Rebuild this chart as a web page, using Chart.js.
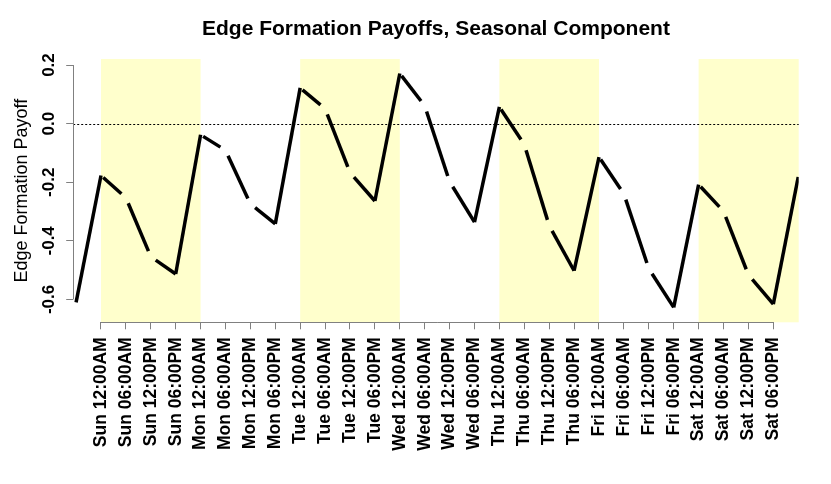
<!DOCTYPE html>
<html>
<head>
<meta charset="utf-8">
<script src="https://cdn.jsdelivr.net/npm/chart.js@4.4.1/dist/chart.umd.min.js"></script>
<style>
  body { margin: 0; background: #fff; }
  canvas { display: block; }
</style>
</head>
<body>
<canvas id="payoffChart" width="831" height="484"></canvas>
<script>
// data
const days = ['Sun', 'Mon', 'Tue', 'Wed', 'Thu', 'Fri', 'Sat'];
const hours = ['12:00AM', '06:00AM', '12:00PM', '06:00PM'];
const timeLabels = days.flatMap(d => hours.map(h => d + ' ' + h));
// one point before Sun 12:00AM and one after Sat 06:00PM (wrap-around)
const payoff = [-0.61,
  -0.177, -0.253, -0.454, -0.513,
  -0.038, -0.091, -0.274, -0.342,
   0.122,  0.051, -0.167, -0.264,
   0.171,  0.061, -0.198, -0.336,
   0.057, -0.071, -0.348, -0.502,
  -0.114, -0.240, -0.495, -0.627,
  -0.208, -0.299, -0.516, -0.616,
  -0.182];
const shadedDays = ['Sun', 'Tue', 'Thu', 'Sat'];
const yTicks = [-0.6, -0.4, -0.2, 0, 0.2];

Chart.defaults.font.family = "'Liberation Sans', Arial, sans-serif";
Chart.defaults.color = '#000';

const axisGray = '#808080';

// shaded day bands, zero line and R-style axis lines
const decorations = {
  id: 'decorations',
  beforeDraw(chart) {
    const {ctx, chartArea, scales: {x}} = chart;
    ctx.save();
    ctx.fillStyle = '#ffffcc';
    shadedDays.forEach(d => {
      const start = days.indexOf(d) * hours.length;
      const end = start + hours.length;
      const x0 = x.getPixelForValue(start);
      const x1 = end >= timeLabels.length ? chartArea.right : x.getPixelForValue(end);
      ctx.fillRect(x0, chartArea.top, x1 - x0, chartArea.bottom - chartArea.top);
    });
    ctx.restore();
  },
  beforeDatasetsDraw(chart) {
    const {ctx, chartArea, scales: {x, y}} = chart;
    ctx.save();
    // dotted zero line
    ctx.strokeStyle = '#000';
    ctx.lineWidth = 1;
    ctx.setLineDash([2, 2]);
    const y0 = Math.round(y.getPixelForValue(0)) + 0.5;
    ctx.beginPath();
    ctx.moveTo(chartArea.left, y0);
    ctx.lineTo(chartArea.right, y0);
    ctx.stroke();
    // axis lines
    ctx.setLineDash([]);
    ctx.strokeStyle = axisGray;
    const ax = Math.round(chartArea.left) + 0.5;
    ctx.beginPath();
    ctx.moveTo(ax, y.getPixelForValue(yTicks[0]));
    ctx.lineTo(ax, y.getPixelForValue(yTicks[yTicks.length - 1]));
    const ay = Math.round(chartArea.bottom) + 0.5;
    ctx.moveTo(x.getPixelForValue(0), ay);
    ctx.lineTo(x.getPixelForValue(timeLabels.length - 1), ay);
    ctx.stroke();
    ctx.restore();
  }
};

// falling stretches are dashed, with the breaks sitting on the inner points
function segDash(c) {
  const i0 = c.p0DataIndex, i1 = c.p1DataIndex;
  if (!(payoff[i1] < payoff[i0])) return null;
  const prevFalling = i0 > 0 && payoff[i0] < payoff[i0 - 1];
  const nextFalling = i1 < payoff.length - 1 && payoff[i1 + 1] < payoff[i1];
  const gs = prevFalling ? 6 : 3;
  const ge = nextFalling ? 6 : 0;
  const len = Math.hypot(c.p1.x - c.p0.x, c.p1.y - c.p0.y);
  const dash = Math.max(len - gs - ge, 1);
  return {dash: [dash, gs + ge], offset: dash + ge};
}

const payoffChartData = {
  datasets: [{
    label: 'Edge Formation Payoff',
    data: payoff.map((v, i) => ({x: i - 1, y: v})),
    borderColor: '#000',
    borderWidth: 3.5,
    borderJoinStyle: 'round',
    borderCapStyle: 'butt',
    pointRadius: 0,
    tension: 0,
    segment: {
      borderDash: c => { const s = segDash(c); return s ? s.dash : undefined; },
      borderDashOffset: c => { const s = segDash(c); return s ? s.offset : undefined; }
    }
  }]
};

const payoffChartOptions = {
  responsive: false,
  animation: false,
  layout: {padding: {left: 0, right: 32.3, top: 0, bottom: 0}},
  plugins: {
    legend: {display: false},
    tooltip: {enabled: false},
    title: {
      display: true,
      fullSize: false,
      text: 'Edge Formation Payoffs, Seasonal Component',
      font: {size: 21, weight: 'bold', lineHeight: 1.2},
      color: '#000',
      padding: {top: 17, bottom: 16.8}
    }
  },
  scales: {
    x: {
      type: 'linear',
      min: -1.116,
      max: 28.02,
      afterBuildTicks: s => { s.ticks = timeLabels.map((_, i) => ({value: i})); },
      afterFit: s => { s.height = 161.7; },
      grid: {drawOnChartArea: false, drawTicks: true, tickLength: 7, color: axisGray},
      border: {display: false},
      ticks: {
        autoSkip: false,
        minRotation: 90,
        maxRotation: 90,
        padding: 8,
        font: {size: 17.5, weight: 'bold'},
        callback: v => timeLabels[v]
      }
    },
    y: {
      min: -0.678,
      max: 0.2206,
      afterBuildTicks: s => { s.ticks = yTicks.map(v => ({value: v})); },
      afterFit: s => { s.width = 73.2; },
      grid: {drawOnChartArea: false, drawTicks: true, tickLength: 7, color: axisGray},
      border: {display: false},
      ticks: {
        minRotation: 90,
        maxRotation: 90,
        crossAlign: 'center',
        padding: 2,
        font: {size: 17, weight: 'bold'},
        callback: v => Number(v).toFixed(1)
      },
      title: {
        display: true,
        text: 'Edge Formation Payoff',
        font: {size: 18},
        color: '#000',
        padding: {top: 11, bottom: 0}
      }
    }
  }
};

const payoffChart = new Chart(document.getElementById('payoffChart'), {
  type: 'line',
  data: payoffChartData,
  options: payoffChartOptions,
  plugins: [decorations]
});
</script>
</body>
</html>
